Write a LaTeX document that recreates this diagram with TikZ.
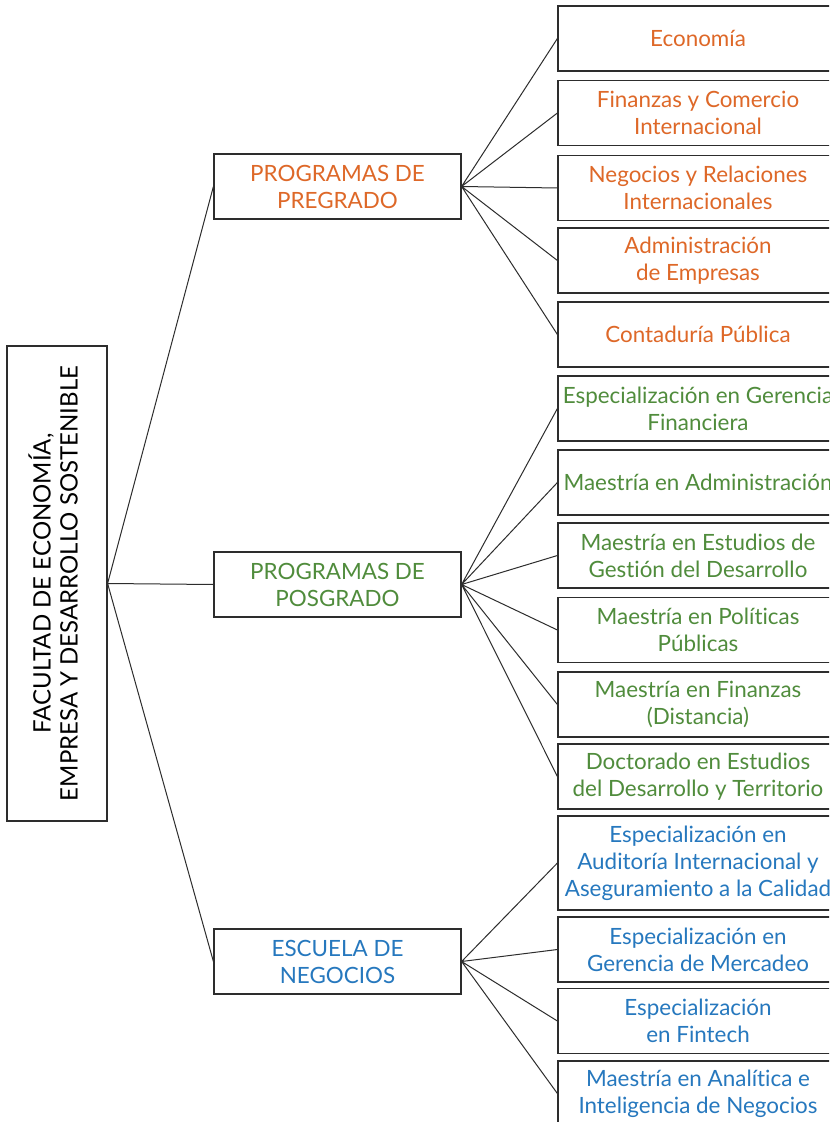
\documentclass[tikz,border=0pt]{standalone}
\usepackage{fontspec}
\setmainfont[Ligatures=NoCommon]{Lato}
\usepackage{xcolor}
\definecolor{naranja}{RGB}{222,104,40}
\definecolor{verde}{RGB}{80,140,60}
\definecolor{azul}{RGB}{38,120,190}
\definecolor{linea}{RGB}{45,45,45}

\begin{document}
\begin{tikzpicture}[x=0.5pt,y=-0.5pt,
  caja/.style={draw=linea,line width=0.6pt,align=center,inner sep=0pt,font=\fontsize{11.2}{13.5}\selectfont},
  rama/.style={caja,minimum width=123.5pt,minimum height=32.5pt},
  hoja/.style={caja,minimum width=140pt,minimum height=32.5pt}]
	\clip (0,0) rectangle (829,1122);
	\fill[white] (0,0) rectangle (829,1122);
	\node[caja,minimum width=50pt,minimum height=237.5pt] (fac) at (57,583.5)
		{\rotatebox{90}{\fontsize{12}{13.5}\selectfont\begin{tabular}{@{}c@{}}FACULTAD DE ECONOMÍA,\\EMPRESA Y DESARROLLO SOSTENIBLE\end{tabular}}};
	\node[rama,text=naranja] (pre) at (337.5,186.5) {PROGRAMAS DE\\PREGRADO};
	\node[rama,text=verde] (pos) at (337.5,584.5) {PROGRAMAS DE\\POSGRADO};
	\node[rama,text=azul] (neg) at (337.5,961.5) {ESCUELA DE\\NEGOCIOS};
	\draw[linea,line width=0.5pt] (fac.east) -- (pre.west) (fac.east) -- (pos.west) (fac.east) -- (neg.west);
	% pregrado
	\node[hoja,text=naranja] (eco) at (698,38.5) {Economía};
	\node[hoja,text=naranja] (fci) at (698,113) {Finanzas y Comercio\\Internacional};
	\node[hoja,text=naranja] (nri) at (698,188) {Negocios y Relaciones\\Internacionales};
	\node[hoja,text=naranja] (ade) at (698,260.5) {Administración\\de Empresas};
	\node[hoja,text=naranja] (cpu) at (698,334.5) {Contaduría Pública};
	\draw[linea,line width=0.5pt] (pre.east) -- (eco.west) (pre.east) -- (fci.west) (pre.east) -- (nri.west)
		(pre.east) -- (ade.west) (pre.east) -- (cpu.west);
	% posgrado
	\node[hoja,text=verde] (egf) at (698,408.5) {Especialización en Gerencia\\Financiera};
	\node[hoja,text=verde] (mad) at (698,482.5) {Maestría en Administración};
	\node[hoja,text=verde] (meg) at (698,555.5) {Maestría en Estudios de\\Gestión del Desarrollo};
	\node[hoja,text=verde] (mpp) at (698,630) {Maestría en Políticas\\Públicas};
	\node[hoja,text=verde] (mfd) at (698,704.5) {Maestría en Finanzas\\(Distancia)};
	\node[hoja,text=verde] (ded) at (698,776.5) {Doctorado en Estudios\\del Desarrollo y Territorio};
	\draw[linea,line width=0.5pt] (pos.east) -- (egf.west) (pos.east) -- (mad.west) (pos.east) -- (meg.west)
		(pos.east) -- (mpp.west) (pos.east) -- (mfd.west) (pos.east) -- (ded.west);
	% escuela de negocios
	\node[hoja,text=azul,minimum height=47pt] (eai) at (698,863) {Especialización en\\Auditoría Internacional y\\Aseguramiento a la Calidad};
	\node[hoja,text=azul] (egm) at (698,949.5) {Especialización en\\Gerencia de Mercadeo};
	\node[hoja,text=azul] (efi) at (698,1021) {Especialización\\en Fintech};
	\node[hoja,text=azul] (mai) at (698,1093.5) {Maestría en Analítica e\\Inteligencia de Negocios};
	\draw[linea,line width=0.5pt] (neg.east) -- (eai.west) (neg.east) -- (egm.west) (neg.east) -- (efi.west)
		(neg.east) -- (mai.west);
\end{tikzpicture}
\end{document}
